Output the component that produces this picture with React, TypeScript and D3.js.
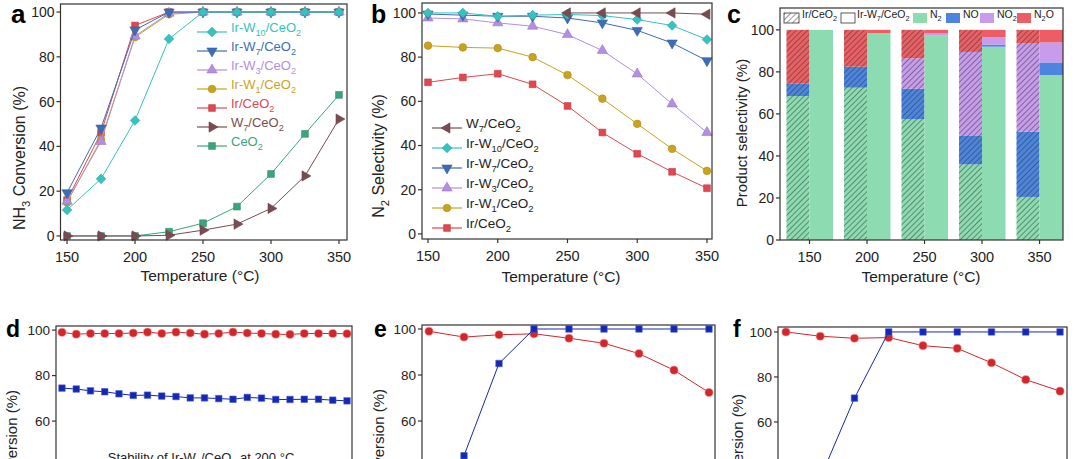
import * as d3 from "d3";

const FONT = "'Liberation Sans', Arial, Helvetica, sans-serif";

// ---- panel a : NH3 conversion vs temperature
const temps = [150, 175, 200, 225, 250, 275, 300, 325, 350];
const convIrW10 = [11.6, 25.5, 51.6, 88, 100, 100, 100, 100, 100];
const convIrW7 = [19.3, 48.2, 92, 100, 100, 100, 100, 100, 100];
const convIrW3 = [15.5, 42.2, 89.3, 99.5, 100, 100, 100, 100, 100];
const convIrW1 = [15, 43, 88.8, 99, 100, 100, 100, 100, 100];
const convIr = [16, 46, 94, 100, 100, 100, 100, 100, 100];
const convW7 = [0, 0, 0, 0.3, 2.6, 5.3, 12.3, 26.8, 52.2];
const convCeO2 = [0, 0, 0, 1.9, 5.7, 13.1, 27.7, 45.6, 63];

// ---- panel b : N2 selectivity vs temperature
const selW7 = [null, null, null, null, 100, 100, 100, 100, 99.4];
const selIrW10 = [100, 100, 98.5, 99, 99.3, 98.8, 97, 94.3, 88];
const selIrW7 = [99.5, 99, 98.5, 98.5, 97.7, 95.5, 92.1, 86.4, 78.4];
const selIrW3 = [97.7, 97.3, 95.5, 94, 90.2, 83, 72.4, 58.8, 45.9];
const selIrW1 = [85.2, 84.4, 84.1, 80, 71.9, 61.2, 49.8, 38.5, 28.5];
const selIr = [68.6, 70.8, 72.5, 67.7, 57.9, 45.9, 36.3, 28.1, 20.7];

// ---- panel c : product selectivity
const cTemps = [150, 200, 250, 300, 350];
const productKeys = ["N2", "NO", "NO2", "N2O"];
const productLabels = ["N_2", "NO", "NO_2", "N_2O"];
const irN2 = [68.5, 72.5, 57.5, 36, 20.5];
const irNO = [6, 10, 14.5, 13.5, 31];
const irNO2 = [0, 0, 14.5, 40, 42];
const irN2O = [25.5, 17.5, 13.5, 10.5, 6.5];
const irW7N2 = [100, 98.5, 97.5, 92, 78.5];
const irW7NO = [0, 0, 0, 1, 6];
const irW7NO2 = [0, 0, 1, 3.5, 9.5];
const irW7N2O = [0, 1.5, 1.5, 3.5, 6];

// ---- panel d : stability at 200 C
const stabTime = [0, 1, 2, 3, 4, 5, 6, 7, 8, 9, 10, 11, 12, 13, 14, 15, 16, 17, 18, 19, 20];
const stabSel = [99, 98.2, 98.5, 98.5, 98.5, 98.7, 99.1, 98.5, 99.1, 98.7, 98.2, 98.5, 99.1, 98.7, 98.5, 98.2, 98.1, 98.5, 98.5, 98.5, 98.4];
const stabConv = [74.5, 74.1, 73.3, 72.9, 72.0, 71.3, 71.4, 71.0, 70.8, 70.2, 70.2, 69.9, 69.6, 70.4, 70.1, 69.5, 69.5, 69.6, 69.6, 69.2, 68.9];

// ---- panels e, f
const eSel = [99, 96.5, 97.5, 97.9, 96, 93.8, 89.3, 82.1, 72.4];
const eConv = [18, 44.9, 85, 100, 100, 100, 100, 100, 100];
const fSel = [100, 98.1, 97.2, 97.5, 93.9, 92.7, 86.3, 78.8, 73.7];
const fConv = [10, 35, 70.6, 100, 100, 100, 100, 100, 100];

const COL = {
  w10: "#35c3c0",
  w7: "#3d6db4",
  w3: "#b48ee0",
  w1: "#c9a31d",
  ir: "#e0474f",
  w7only: "#7a4c52",
  ceo2: "#3aa57a",
};
const PRODUCT_COL = ["#8ddbb0", "#4d84df", "#c99bec", "#ec5e63"];
const RED = "#d2262b";
const BLUE = "#1428b4";

type Mk = "square" | "circle" | "diamond" | "up" | "down" | "left" | "right";
const ROT: Record<Mk, number> = { square: 0, circle: 0, diamond: 45, up: 0, down: 180, left: -90, right: 90 };

function Marker({ x, y, m, color, size = 46, stroke }: { x: number; y: number; m: Mk; color: string; size?: number; stroke?: string }) {
  const type = m === "circle" ? d3.symbolCircle : m === "square" || m === "diamond" ? d3.symbolSquare : d3.symbolTriangle;
  const p = d3.symbol(type, size)() as string;
  return (
    <path d={p} transform={`translate(${x},${y}) rotate(${ROT[m]})`} fill={color}
      stroke={stroke ?? d3.color(color)!.darker(0.4).toString()} strokeWidth={0.6} />
  );
}

// text with _n subscripts
function chem(s: string, fs: number) {
  const parts = s.split(/_(\d+)/);
  const out: any[] = [];
  let shifted = false;
  parts.forEach((p, i) => {
    if (!p) return;
    if (i % 2 === 1) {
      out.push(<tspan key={i} fontSize={fs * 0.7} dy={fs * 0.3}>{p}</tspan>);
      shifted = true;
    } else {
      out.push(<tspan key={i} dy={shifted ? -fs * 0.3 : 0}>{p}</tspan>);
      shifted = false;
    }
  });
  return out;
}

type Series = { label: string; values: (number | null)[]; color: string; m: Mk; size?: number; stroke?: string };

function Lines({ xs, series, sx, sy }: { xs: number[]; series: Series[]; sx: any; sy: any }) {
  return (
    <g>
      {series.map((s, k) => {
        const pts = xs.map((x, i) => [x, s.values[i]] as [number, number | null]);
        const line = d3.line<[number, number | null]>()
          .defined(d => d[1] != null)
          .x(d => sx(d[0]))
          .y(d => sy(d[1] as number));
        return (
          <g key={k}>
            <path d={line(pts) as string} fill="none" stroke={s.color} strokeWidth={1} />
            {pts.filter(d => d[1] != null).map((d, i) => (
              <Marker key={i} x={sx(d[0])} y={sy(d[1] as number)} m={s.m} color={s.color} size={s.size} stroke={s.stroke} />
            ))}
          </g>
        );
      })}
    </g>
  );
}

function Frame({ sx, sy }: { sx: any; sy: any }) {
  const [x0, x1] = sx.range();
  const [y1, y0] = sy.range();
  return <rect x={x0} y={y0} width={x1 - x0} height={y1 - y0} fill="none" stroke="#333" strokeWidth={1.2} />;
}

function YAxis({ sy, x0, ticks, fs = 14 }: { sy: any; x0: number; ticks: number[]; fs?: number }) {
  return (
    <g>
      {ticks.map(t => (
        <g key={t}>
          <line x1={x0 - 4} x2={x0} y1={sy(t)} y2={sy(t)} stroke="#333" strokeWidth={1.2} />
          <text x={x0 - 6} y={sy(t)} dy="0.35em" textAnchor="end" fontSize={fs} fill="#222">{t}</text>
        </g>
      ))}
    </g>
  );
}

function XAxis({ sx, y0, ticks, fs = 14.5, gap = 22 }: { sx: any; y0: number; ticks: number[]; fs?: number; gap?: number }) {
  return (
    <g>
      {ticks.map(t => (
        <g key={t}>
          <line x1={sx(t)} x2={sx(t)} y1={y0} y2={y0 + 4} stroke="#333" strokeWidth={1.2} />
          <text x={sx(t)} y={y0 + gap} textAnchor="middle" fontSize={fs} fill="#222">{t}</text>
        </g>
      ))}
    </g>
  );
}

function YTitle({ x, y, text, fs = 16, anchor = "middle" }: { x: number; y: number; text: string; fs?: number; anchor?: string }) {
  return (
    <text transform={`translate(${x},${y}) rotate(-90)`} textAnchor={anchor} fontSize={fs} fill="#222">
      {chem(text, fs)}
    </text>
  );
}

function Legend({ x, y, step, items, fs, textColor }: { x: number; y: number; step: number; items: Series[]; fs: number; textColor?: string }) {
  return (
    <g>
      {items.map((s, i) => (
        <g key={i} transform={`translate(${x},${y + i * step})`}>
          <line x1={0} x2={30} y1={0} y2={0} stroke={s.color} strokeWidth={1.2} />
          <Marker x={15} y={0} m={s.m} color={s.color} />
          <text x={34} y={0} dy="0.35em" fontSize={fs} fill={textColor ?? s.color}>{chem(s.label, fs)}</text>
        </g>
      ))}
    </g>
  );
}

export default function App() {
  // panel a
  const xA = d3.scaleLinear().domain([145.2, 355.9]).range([60.5, 347]);
  const yA = d3.scaleLinear().domain([-1.8, 103.6]).range([240, 4]);
  const seriesA: Series[] = [
    { label: "Ir-W_10/CeO_2", values: convIrW10, color: COL.w10, m: "diamond" },
    { label: "Ir-W_7/CeO_2", values: convIrW7, color: COL.w7, m: "down" },
    { label: "Ir-W_3/CeO_2", values: convIrW3, color: COL.w3, m: "up" },
    { label: "Ir-W_1/CeO_2", values: convIrW1, color: COL.w1, m: "circle" },
    { label: "Ir/CeO_2", values: convIr, color: COL.ir, m: "square" },
    { label: "W_7/CeO_2", values: convW7, color: COL.w7only, m: "right" },
    { label: "CeO_2", values: convCeO2, color: COL.ceo2, m: "square" },
  ];

  // panel b
  const xB = d3.scaleLinear().domain([145.7, 353.6]).range([422, 712]);
  const yB = d3.scaleLinear().domain([-2.3, 104.5]).range([239, 3]);
  const seriesB: Series[] = [
    { label: "W_7/CeO_2", values: selW7, color: COL.w7only, m: "left" },
    { label: "Ir-W_10/CeO_2", values: selIrW10, color: COL.w10, m: "diamond" },
    { label: "Ir-W_7/CeO_2", values: selIrW7, color: COL.w7, m: "down" },
    { label: "Ir-W_3/CeO_2", values: selIrW3, color: COL.w3, m: "up" },
    { label: "Ir-W_1/CeO_2", values: selIrW1, color: COL.w1, m: "circle" },
    { label: "Ir/CeO_2", values: selIr, color: COL.ir, m: "square" },
  ];

  // panel c
  const xC = d3.scaleLinear().domain([124.35, 370.4]).range([780, 1063]);
  const yC = d3.scaleLinear().domain([0, 110.4]).range([240, 8]);
  const barW = 23;
  const rowsIr = cTemps.map((t, i) => ({ t, N2: irN2[i], NO: irNO[i], NO2: irNO2[i], N2O: irN2O[i] }));
  const rowsW7 = cTemps.map((t, i) => ({ t, N2: irW7N2[i], NO: irW7NO[i], NO2: irW7NO2[i], N2O: irW7N2O[i] }));
  const stack = d3.stack<any>().keys(productKeys);
  const stIr = stack(rowsIr);
  const stW7 = stack(rowsW7);

  // bottom panels
  const xD = d3.scaleLinear().domain([-0.42, 20.35]).range([56, 352]);
  const yD = d3.scaleLinear().domain([0, 101.8]).range([557.6, 326]);
  const xE = d3.scaleLinear().domain([145, 354.3]).range([422, 715]);
  const yE = d3.scaleLinear().domain([0, 101.74]).range([559, 325]);
  const xF = d3.scaleLinear().domain([144.2, 355.1]).range([778, 1067]);
  const yF = d3.scaleLinear().domain([0, 102.2]).range([557, 327]);

  const red = (v: (number | null)[]): Series => ({ label: "", values: v, color: RED, m: "circle", size: 52, stroke: "#f29a9a" });
  const blue = (v: (number | null)[]): Series => ({ label: "", values: v, color: BLUE, m: "square", size: 42, stroke: "#4a5ad0" });

  const letter = (x: number, y: number, t: string, fs: number) => (
    <text x={x} y={y} fontSize={fs} fontWeight="bold" fill="#000">{t}</text>
  );

  return (
    <svg width={1080} height={459} style={{ position: "absolute", left: 0, top: 0, background: "#fff" }} fontFamily={FONT}>
      <defs>
        <pattern id="hatch" patternUnits="userSpaceOnUse" width={4} height={4} patternTransform="rotate(45)">
          <line x1={0} y1={0} x2={0} y2={4} stroke="#2b3a33" strokeWidth={1} />
        </pattern>
      </defs>
      <rect width={1080} height={459} fill="#fff" />

      {/* ---- a ---- */}
      <Lines xs={temps} series={[...seriesA].reverse()} sx={xA} sy={yA} />
      <Frame sx={xA} sy={yA} />
      <YAxis sy={yA} x0={60.5} ticks={[0, 20, 40, 60, 80, 100]} />
      <XAxis sx={xA} y0={240} ticks={[150, 200, 250, 300, 350]} />
      <text x={200} y={281} textAnchor="middle" fontSize={15.5} fill="#222">Temperature (°C)</text>
      <YTitle x={25} y={158} text="NH_3 Conversion (%)" />
      <Legend x={197} y={32} step={19} items={seriesA} fs={13} />
      {letter(11, 23, "a", 26)}

      {/* ---- b ---- */}
      <Lines xs={temps} series={[...seriesB].reverse()} sx={xB} sy={yB} />
      <Frame sx={xB} sy={yB} />
      <YAxis sy={yB} x0={422} ticks={[0, 20, 40, 60, 80, 100]} />
      <XAxis sx={xB} y0={239} ticks={[150, 200, 250, 300, 350]} />
      <text x={561} y={282} textAnchor="middle" fontSize={15.5} fill="#222">Temperature (°C)</text>
      <YTitle x={384} y={156} text="N_2 Selectivity (%)" />
      <Legend x={432} y={128} step={20} items={seriesB} fs={13.5} textColor="#222" />
      {letter(371, 23, "b", 25)}

      {/* ---- c ---- */}
      {stIr.map((layer, k) => layer.map((d, i) => (
        <rect key={`ir${k}${i}`} x={xC(cTemps[i]) - barW} width={barW} y={yC(d[1])} height={yC(d[0]) - yC(d[1])} fill={PRODUCT_COL[k]} />
      )))}
      {cTemps.map((t, i) => (
        <rect key={`h${i}`} x={xC(t) - barW} width={barW} y={yC(100)} height={yC(0) - yC(100)} fill="url(#hatch)" />
      ))}
      {stW7.map((layer, k) => layer.map((d, i) => (
        <rect key={`w${k}${i}`} x={xC(cTemps[i])} width={barW + 0.5} y={yC(d[1])} height={yC(d[0]) - yC(d[1])} fill={PRODUCT_COL[k]} />
      )))}
      <Frame sx={xC} sy={yC} />
      <YAxis sy={yC} x0={780} ticks={[0, 20, 40, 60, 80, 100]} />
      <XAxis sx={xC} y0={240} ticks={cTemps} />
      <text x={921} y={282} textAnchor="middle" fontSize={15.5} fill="#222">Temperature (°C)</text>
      <YTitle x={747} y={133} text="Product selectivity (%)" fs={15} />
      <g fontSize={10.5} fill="#222">
        <rect x={784} y={13} width={15} height={10} fill="url(#hatch)" stroke="#333" strokeWidth={0.8} />
        <text x={802} y={18} dy="0.35em">{chem("Ir/CeO_2", 10.5)}</text>
        <rect x={841} y={13} width={14} height={10} fill="#fff" stroke="#333" strokeWidth={0.8} />
        <text x={857} y={18} dy="0.35em">{chem("Ir-W_7/CeO_2", 10.5)}</text>
        {productLabels.map((l, k) => {
          const lx = [913, 946, 980, 1017][k];
          return (
            <g key={l}>
              <rect x={lx} y={13} width={14} height={10} fill={PRODUCT_COL[k]} />
              <text x={lx + 17} y={18} dy="0.35em">{chem(l, 10.5)}</text>
            </g>
          );
        })}
      </g>
      {letter(727, 23, "c", 25)}

      {/* ---- d ---- */}
      <Lines xs={stabTime} series={[blue(stabConv), red(stabSel)]} sx={xD} sy={yD} />
      <Frame sx={xD} sy={yD} />
      <YAxis sy={yD} x0={56} ticks={[60, 80, 100]} fs={13.5} />
      <YTitle x={17} y={390} text="Conversion (%)" fs={15} anchor="end" />
      <text x={201} y={462} textAnchor="middle" fontSize={13} fill="#222">{chem("Stability of Ir-W_7/CeO_2 at 200 °C", 13)}</text>
      {letter(6, 337, "d", 23)}

      {/* ---- e ---- */}
      <Lines xs={temps} series={[red(eSel), blue(eConv)]} sx={xE} sy={yE} />
      <Frame sx={xE} sy={yE} />
      <YAxis sy={yE} x0={422} ticks={[60, 80, 100]} fs={13.5} />
      <YTitle x={384} y={389} text="Conversion (%)" fs={15} anchor="end" />
      {letter(374, 337, "e", 23)}

      {/* ---- f ---- */}
      <Lines xs={temps} series={[red(fSel), blue(fConv)]} sx={xF} sy={yF} />
      <Frame sx={xF} sy={yF} />
      <YAxis sy={yF} x0={778} ticks={[60, 80, 100]} fs={13.5} />
      <YTitle x={743} y={394} text="Conversion (%)" fs={15} anchor="end" />
      {letter(733, 337, "f", 23)}
    </svg>
  );
}
